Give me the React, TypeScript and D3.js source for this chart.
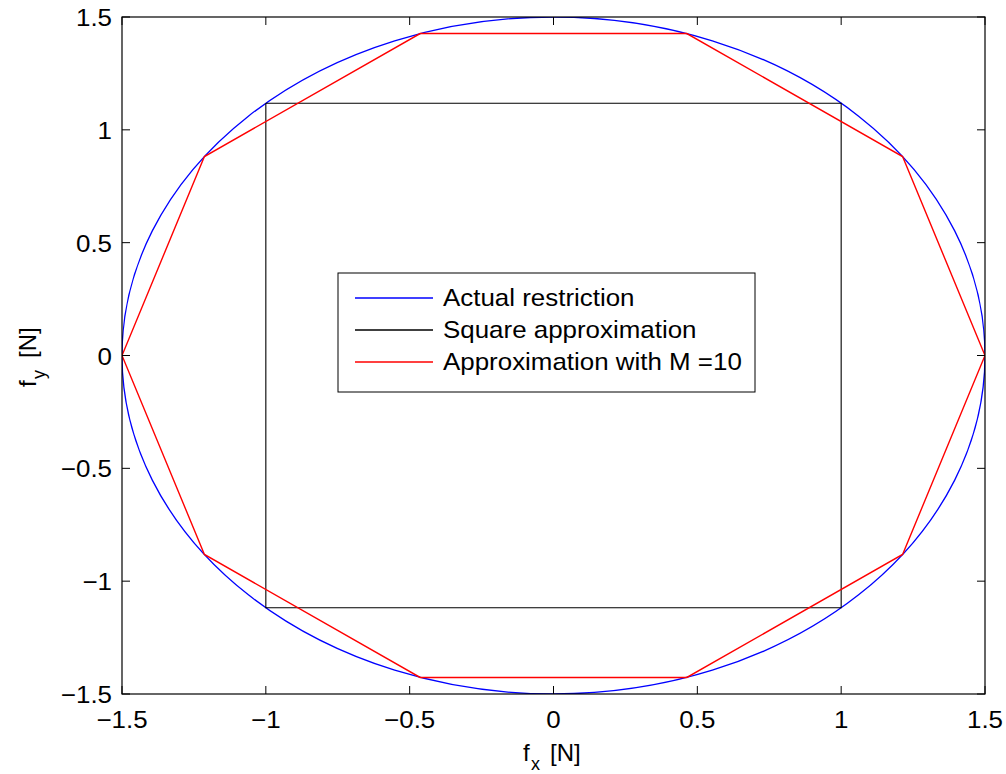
import React from "react";
import * as d3 from "d3";

const xTicks = [-1.5, -1, -0.5, 0, 0.5, 1, 1.5];
const yTicks = [-1.5, -1, -0.5, 0, 0.5, 1, 1.5];
const tickLabels = ["\u22121.5", "\u22121", "\u22120.5", "0", "0.5", "1", "1.5"];

// Actual restriction: circle of radius 1.5 centred at origin
const circleCenter = [0, 0];
const circleRadius = [1.5];

// Square approximation corners
const squareX = [-1, 1, 1, -1, -1];
const squareY = [1.118, 1.118, -1.118, -1.118, 1.118];

// Approximation with M = 10 (decagon vertices)
const decaX = [1.5, 1.2135, 0.4635, -0.4635, -1.2135, -1.5, -1.2135, -0.4635, 0.4635, 1.2135, 1.5];
const decaY = [0, 0.8817, 1.4266, 1.4266, 0.8817, 0, -0.8817, -1.4266, -1.4266, -0.8817, 0];

const legendLabels = ["Actual restriction", "Square approximation", "Approximation with M =10"];
const legendColors = ["#0000ff", "#000000", "#ff0000"];

const W = 1006, H = 774;
const L = 122, R = 985, T = 17, B = 694;
const FONT = "'Liberation Sans', Arial, Helvetica, sans-serif";
const SX = 1.08;

function T2({ x, y, anchor = "start", children, fs = 24, rotate = 0, sx = SX }: any) {
  return (
    <text
      transform={`translate(${x},${y}) rotate(${rotate}) scale(${sx},1)`}
      textAnchor={anchor}
      fontFamily={FONT}
      fontSize={fs}
    >
      {children}
    </text>
  );
}

export default function App() {
  const x = d3.scaleLinear().domain([-1.5, 1.5]).range([L, R]);
  const y = d3.scaleLinear().domain([-1.5, 1.5]).range([B, T]);
  const path = (xs: number[], ys: number[]) =>
    d3.line<number>().x((d) => x(d)).y((_, i) => y(ys[i]))(xs) || "";
  const tl = 8;
  return (
    <svg width={W} height={H} style={{ position: "absolute", left: 0, top: 0, background: "#fff" }}>
      <defs>
        <clipPath id="clip">
          <rect x={L} y={T} width={R - L} height={B - T} />
        </clipPath>
      </defs>
      <rect x={0} y={0} width={W} height={H} fill="#fff" />
      <g clipPath="url(#clip)">
        <ellipse
          cx={x(circleCenter[0])}
          cy={y(circleCenter[1])}
          rx={x(circleRadius[0]) - x(0)}
          ry={y(0) - y(circleRadius[0])}
          fill="none"
          stroke="#0000ff"
          strokeWidth={1.3}
        />
        <path d={path(squareX, squareY)} fill="none" stroke="#000" strokeWidth={1.1} />
        <path d={path(decaX, decaY)} fill="none" stroke="#ff0000" strokeWidth={1.4} />
      </g>
      <rect x={L} y={T} width={R - L} height={B - T} fill="none" stroke="#000" strokeWidth={1.2} />
      {xTicks.map((t, i) => (
        <g key={"x" + i}>
          <line x1={x(t)} x2={x(t)} y1={B} y2={B - tl} stroke="#000" strokeWidth={1} />
          <line x1={x(t)} x2={x(t)} y1={T} y2={T + tl} stroke="#000" strokeWidth={1} />
          <T2 x={x(t)} y={B + 34} anchor="middle">
            {tickLabels[i]}
          </T2>
        </g>
      ))}
      {yTicks.map((t, i) => (
        <g key={"y" + i}>
          <line x1={L} x2={L + tl} y1={y(t)} y2={y(t)} stroke="#000" strokeWidth={1} />
          <line x1={R} x2={R - tl} y1={y(t)} y2={y(t)} stroke="#000" strokeWidth={1} />
          <T2 x={L - 10} y={y(t) + 9} anchor="end">
            {tickLabels[i]}
          </T2>
        </g>
      ))}
      <T2 x={523} y={761} sx={1}>
        f<tspan fontSize={18} x={8} dy={9}>x</tspan>
        <tspan x={27} dy={-9}>[N]</tspan>
      </T2>
      <T2 x={36} y={387} rotate={-90} sx={1}>
        f<tspan fontSize={18} x={8} dy={9}>y</tspan>
        <tspan x={29} dy={-9}>[N]</tspan>
      </T2>
      <rect x={338} y={273} width={417} height={119} fill="#fff" stroke="#000" strokeWidth={1} />
      {legendLabels.map((lab, i) => {
        const cy = 298 + i * 32;
        return (
          <g key={"l" + i}>
            <line x1={355} x2={433} y1={cy} y2={cy} stroke={legendColors[i]} strokeWidth={1.3} />
            <T2 x={443} y={cy + 8}>
              {lab}
            </T2>
          </g>
        );
      })}
    </svg>
  );
}
